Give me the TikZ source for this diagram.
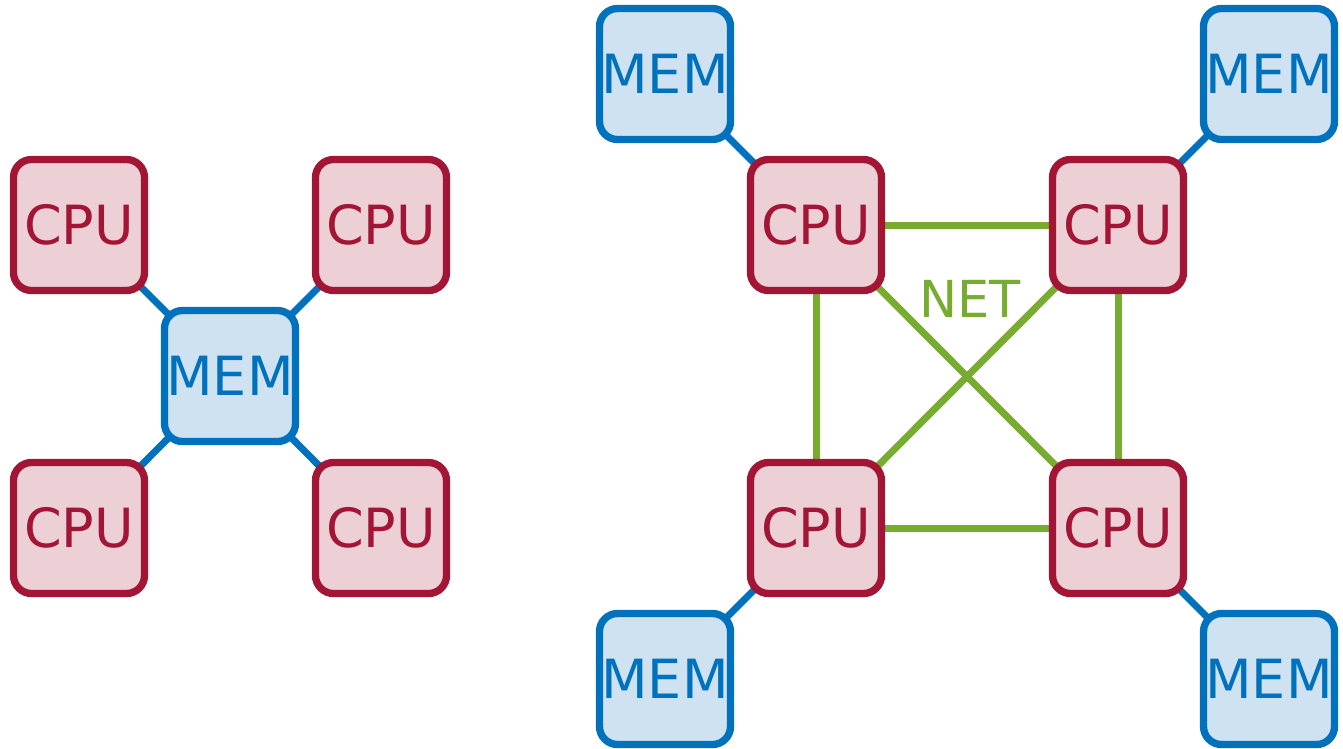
\documentclass[tikz,border=0pt]{standalone}
\usepackage{fontspec}
\setmainfont{DejaVu Sans}
\usetikzlibrary{backgrounds}
\definecolor{cpuline}{RGB}{163,21,52}
\definecolor{cpufill}{RGB}{237,207,214}
\definecolor{memline}{RGB}{0,114,189}
\definecolor{memfill}{RGB}{207,226,242}
\definecolor{netline}{RGB}{119,172,48}
\tikzset{
  unitbox/.style={rectangle, rounded corners=18pt, line width=7.3pt,
    minimum width=131pt, minimum height=131pt, inner sep=0pt,
    font=\fontsize{54}{58}\selectfont},
  cpubox/.style={unitbox, draw=cpuline, fill=cpufill, text=cpuline},
  membox/.style={unitbox, draw=memline, fill=memfill, text=memline},
  memlink/.style={draw=memline, line width=7pt},
  netlink/.style={draw=netline, line width=7pt},
}
\begin{document}
\begin{tikzpicture}[x=1pt, y=-1pt]
  \useasboundingbox (0,0) rectangle (1343,748);

  % shared memory: four CPUs around one memory
  \node[membox] (m0) at (230,376) {MEM};
  \node[cpubox] (c1) at (79,225) {CPU};
  \node[cpubox] (c2) at (381,225) {CPU};
  \node[cpubox] (c3) at (79,528) {CPU};
  \node[cpubox] (c4) at (381,528) {CPU};

  % distributed memory: each CPU with its own memory, joined by a network
  \node[cpubox] (d1) at (816,225) {CPU};
  \node[cpubox] (d2) at (1118,225) {CPU};
  \node[cpubox] (d3) at (816,528) {CPU};
  \node[cpubox] (d4) at (1118,528) {CPU};
  \node[membox] (n1) at (665,74) {MEM};
  \node[membox] (n2) at (1269,74) {MEM};
  \node[membox] (n3) at (665,679) {MEM};
  \node[membox] (n4) at (1269,679) {MEM};

  \node[text=netline, font=\fontsize{51}{55}\selectfont, inner sep=0pt] (net) at (970,299) {NET};

  \begin{pgfonlayer}{background}
    \draw[memlink] (m0.center) -- (c1.center);
    \draw[memlink] (m0.center) -- (c2.center);
    \draw[memlink] (m0.center) -- (c3.center);
    \draw[memlink] (m0.center) -- (c4.center);

    \draw[memlink] (n1.center) -- (d1.center);
    \draw[memlink] (n2.center) -- (d2.center);
    \draw[memlink] (n3.center) -- (d3.center);
    \draw[memlink] (n4.center) -- (d4.center);

    \draw[netlink] (d1.center) -- (d2.center);
    \draw[netlink] (d3.center) -- (d4.center);
    \draw[netlink] (d1.center) -- (d3.center);
    \draw[netlink] (d2.center) -- (d4.center);
    \draw[netlink] (d1.center) -- (d4.center);
    \draw[netlink] (d2.center) -- (d3.center);
  \end{pgfonlayer}
\end{tikzpicture}
\end{document}
